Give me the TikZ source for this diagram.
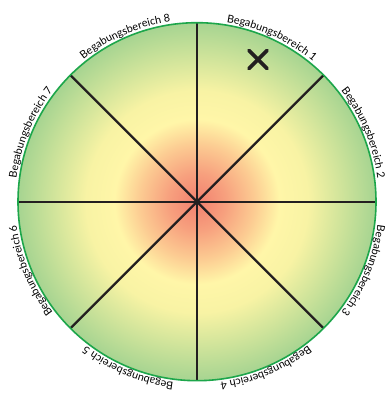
\documentclass[tikz,border=0pt]{standalone}
\usepackage{fontspec}
\setmainfont{Lato}
\usetikzlibrary{decorations.text}
\definecolor{cRed}{HTML}{F2806F}
\definecolor{cSalmon}{HTML}{F7A07E}
\definecolor{cOrange}{HTML}{FCCB92}
\definecolor{cYellow}{HTML}{FFF6A8}
\definecolor{cYellowB}{HTML}{F8F3A4}
\definecolor{cGreen}{HTML}{A6D491}
\definecolor{rimgreen}{HTML}{1DA64B}
\definecolor{spokeblack}{HTML}{231F20}
\pgfdeclareradialshading{discshade}{\pgfpoint{0bp}{0bp}}{color(0bp)=(cRed); color(4bp)=(cSalmon); color(8bp)=(cOrange); color(11.5bp)=(cYellow); color(15.5bp)=(cYellowB); color(25bp)=(cGreen); color(50bp)=(cGreen)}
\newcommand{\lblfont}{\fontsize{10.8}{12}\selectfont}
\begin{document}
\begin{tikzpicture}[x=1pt,y=1pt,
  spoke/.style={line width=2.2pt, draw=spokeblack},
  rim/.style={line width=1.6pt, draw=rimgreen},
  cross/.style={line width=3.6pt, draw=spokeblack, line cap=round},
  lbl/.style={decorate, decoration={text along path, text align=center, text={|\lblfont|#1}}}]
\useasboundingbox (0,0) rectangle (386,394);
\coordinate (c) at (197,192.3);
\shade[shading=discshade] (c) circle[radius=179];
\foreach \a in {0,45,...,315} \draw[spoke] (c) -- ++(\a:179);
\draw[rim] (c) circle[radius=179];
\coordinate (x) at (258,334.5);
\draw[cross] (x) ++(-9,-9) -- ++(18,18);
\draw[cross] (x) ++(-9,9) -- ++(18,-18);
\begin{scope}[shift={(197,192.3)}]
\path[lbl={Begabungsbereich 1}] (100.5:182) arc[start angle=100.5, end angle=30.5, radius=182];
\path[lbl={Begabungsbereich 2}] (57.5:182) arc[start angle=57.5, end angle=-12.5, radius=182];
\path[lbl={Begabungsbereich 3}] (12.5:182) arc[start angle=12.5, end angle=-57.5, radius=182];
\path[lbl={Begabungsbereich 4}] (-32.5:182) arc[start angle=-32.5, end angle=-102.5, radius=182];
\path[lbl={Begabungsbereich 5}] (-77.5:182) arc[start angle=-77.5, end angle=-147.5, radius=182];
\path[lbl={Begabungsbereich 6}] (-122.5:182) arc[start angle=-122.5, end angle=-192.5, radius=182];
\path[lbl={Begabungsbereich 7}] (-167.5:182) arc[start angle=-167.5, end angle=-237.5, radius=182];
\path[lbl={Begabungsbereich 8}] (148.5:182) arc[start angle=148.5, end angle=78.5, radius=182];
\end{scope}
\end{tikzpicture}
\end{document}
